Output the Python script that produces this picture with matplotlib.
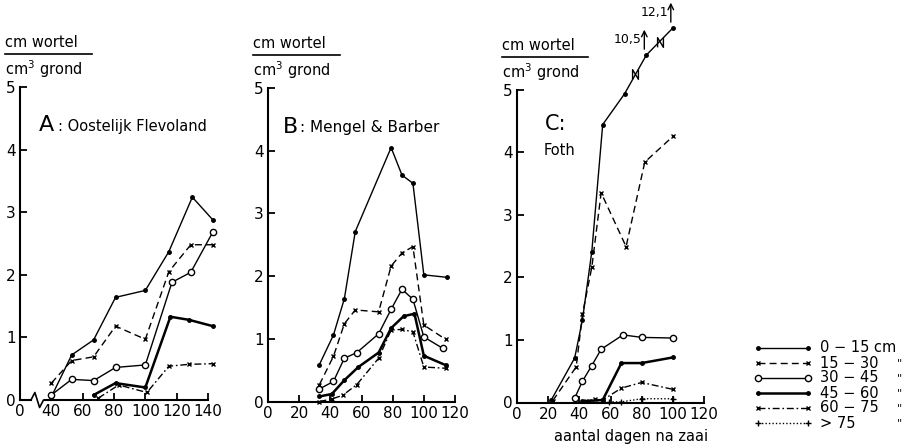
import numpy as np
import matplotlib.pyplot as plt
from matplotlib.path import Path

# diepte-klassen (cm)
labels = ['0 \u2212 15 cm', '15 \u2212 30', '30 \u2212 45', '45 \u2212 60', '60 \u2212 75', '> 75']

# A: Oostelijk Flevoland  (dagen na zaai, cm wortel / cm3 grond)
a_days = [
    [40, 53, 67, 81, 100, 115, 130, 143],
    [40, 53, 67, 81, 100, 115, 129, 143],
    [40, 53, 67, 81, 100, 117, 129, 143],
    [67, 81, 100, 116, 128, 143],
    [70, 83, 101, 115, 128, 143],
]
a_vals = [
    [0.05, 0.72, 0.96, 1.64, 1.75, 2.37, 3.24, 2.88],
    [0.27, 0.63, 0.69, 1.18, 0.97, 2.05, 2.48, 2.48],
    [0.08, 0.33, 0.31, 0.52, 0.56, 1.88, 2.04, 2.68],
    [0.08, 0.27, 0.20, 1.33, 1.28, 1.18],
    [0.03, 0.24, 0.12, 0.54, 0.57, 0.58],
]

# B: Mengel & Barber
b_days = [
    [33, 42, 49, 56, 79, 86, 93, 100, 115],
    [33, 42, 49, 56, 71, 79, 86, 93, 100, 114],
    [33, 42, 49, 57, 71, 79, 86, 93, 100, 112],
    [33, 41, 49, 58, 71, 79, 87, 94, 100, 114],
    [33, 41, 48, 57, 71, 79, 86, 93, 100, 114],
]
b_vals = [
    [0.59, 1.06, 1.64, 2.71, 4.05, 3.61, 3.48, 2.02, 1.98],
    [0.27, 0.72, 1.24, 1.46, 1.43, 2.16, 2.37, 2.47, 1.22, 0.99],
    [0.20, 0.32, 0.69, 0.78, 1.08, 1.47, 1.79, 1.63, 1.03, 0.85],
    [0.08, 0.12, 0.34, 0.55, 0.78, 1.17, 1.36, 1.40, 0.73, 0.58],
    [0.00, 0.04, 0.10, 0.27, 0.69, 1.14, 1.15, 1.11, 0.55, 0.53],
]

# C: Foth
c_days = [
    [22, 37, 42, 48, 55, 69, 83, 100],
    [23, 38, 42, 48, 54, 70, 82, 100],
    [37, 42, 48, 54, 68, 80, 100],
    [42, 55, 67, 80, 100],
    [44, 50, 55, 67, 80, 100],
    [59, 67, 80, 100],
]
c_vals = [
    [0.04, 0.71, 1.32, 2.41, 4.44, 4.93, 10.5, 12.1],
    [0.03, 0.57, 1.41, 2.16, 3.35, 2.49, 3.84, 4.25],
    [0.07, 0.34, 0.59, 0.85, 1.08, 1.04, 1.03],
    [0.02, 0.04, 0.63, 0.63, 0.72],
    [0.02, 0.05, 0.04, 0.23, 0.32, 0.21],
    [0.01, 0.01, 0.06, 0.06],
]

styles = [
    dict(ls='-', lw=1.0, marker='.', ms=5),
    dict(ls=(0, (5, 3)), lw=1.0, marker='x', ms=3.5, mew=1.0),
    dict(ls='-', lw=1.0, marker='o', ms=4.5, mfc='white', mew=1.0),
    dict(ls='-', lw=1.8, marker='.', ms=5),
    dict(ls=(0, (5, 2, 1.2, 2)), lw=1.0, marker='x', ms=3.5, mew=1.0),
    dict(ls=(0, (1, 1.5)), lw=1.0, marker='+', ms=5, mew=1.0),
]

plt.rcParams['font.family'] = 'DejaVu Sans'
W, H = 912, 445
fig = plt.figure(figsize=(W / 100, H / 100), dpi=100)


def frac(x0, y0, x1, y1):
    return [x0 / W, 1 - y1 / H, (x1 - x0) / W, (y1 - y0) / H]


def axis_style(ax):
    for s in ['top', 'right']:
        ax.spines[s].set_visible(False)
    for s in ['left', 'bottom']:
        ax.spines[s].set_linewidth(1.5)
    ax.tick_params(direction='in', length=5, width=1.3, labelsize=11, pad=3)
    ax.set_ylim(0, 5)
    ax.set_yticks([0, 1, 2, 3, 4, 5])


def disp(v):
    # gebroken y-as boven 5
    return v if v <= 5 else 5.55 + (v - 10.5) * 0.27


def ylabel(x0, x1, y):
    fig.text(x0 / W, 1 - y / H, 'cm wortel', fontsize=10.5, va='bottom')
    fig.add_artist(plt.Line2D([x0 / W, x1 / W], [1 - (y + 4) / H] * 2, color='k', lw=1.2))
    fig.text(x0 / W, 1 - (y + 8) / H, 'cm$^3$ grond', fontsize=10.5, va='top')


zig = Path([(-0.6, -1), (-0.6, 1), (0.6, -1), (0.6, 1)],
           [Path.MOVETO, Path.LINETO, Path.LINETO, Path.LINETO])

# ---- A
axA = fig.add_axes(frac(20, 87, 208, 400))
axis_style(axA)
axA.set_xlim(20, 140)
axA.set_xticks([20, 40, 60, 80, 100, 120, 140])
axA.set_xticklabels(['0', '40', '60', '80', '100', '120', '140'])
axA.spines['bottom'].set_visible(False)
axA.plot([20, 27], [0, 0], color='k', lw=1.5, clip_on=False)
axA.plot([27, 29.5, 32.5, 35, 36], [0, 0.12, -0.12, 0, 0], color='k', lw=1.2, clip_on=False)
axA.plot([36, 140], [0, 0], color='k', lw=1.5, clip_on=False)
for d, v, st in zip(a_days, a_vals, styles):
    axA.plot(d, v, color='k', clip_on=False, **st)
axA.text(0.1, 0.88, 'A', transform=axA.transAxes, fontsize=16, va='center')
axA.text(0.2, 0.875, ': Oostelijk Flevoland', transform=axA.transAxes, fontsize=10.5, va='center')
ylabel(5, 92, 50)

# ---- B
axB = fig.add_axes(frac(268, 88, 455, 401.5))
axis_style(axB)
axB.set_xlim(0, 120)
axB.set_xticks(range(0, 121, 20))
for d, v, st in zip(b_days, b_vals, styles):
    axB.plot(d, v, color='k', clip_on=False, **st)
axB.text(0.08, 0.875, 'B', transform=axB.transAxes, fontsize=16, va='center')
axB.text(0.17, 0.875, ': Mengel & Barber', transform=axB.transAxes, fontsize=11, va='center')
ylabel(253, 340, 51)

# ---- C
axC = fig.add_axes(frac(517, 89.5, 704, 402.5))
axis_style(axC)
axC.set_xlim(0, 120)
axC.set_xticks(range(0, 121, 20))
for d, v, st in zip(c_days, c_vals, styles):
    axC.plot(d, [disp(x) for x in v], color='k', clip_on=False, **st)
# breuktekens op de lijn 0-15 cm
dd = c_days[0][-3:]
yy = [disp(x) for x in c_vals[0][-3:]]
zx = [(dd[0] + dd[1]) / 2, (dd[1] + dd[2]) / 2]
zy = [(yy[0] + yy[1]) / 2, (yy[1] + yy[2]) / 2]
axC.plot(zx, zy, ls='none', marker=zig, ms=7, mfc='none', mec='k', mew=1.0, clip_on=False)
for d, v in [(c_days[0][-2], c_vals[0][-2]), (c_days[0][-1], c_vals[0][-1])]:
    y = disp(v)
    axC.annotate('', xy=(d - 1.3, y + 0.45), xytext=(d - 1.3, y + 0.05),
                 arrowprops=dict(arrowstyle='->', lw=1.0, color='k'), annotation_clip=False)
    axC.text(d - 3, y + 0.15, f'{v:.1f}'.replace('.', ','), fontsize=9,
             ha='right', va='bottom', clip_on=False)
axC.text(0.15, 0.89, 'C:', transform=axC.transAxes, fontsize=15, va='center')
axC.text(0.14, 0.805, 'Foth', transform=axC.transAxes, fontsize=10.5, va='center')
ylabel(502, 588, 53)
fig.text(631 / W, 1 - 437 / H, 'aantal dagen na zaai', fontsize=10.5, ha='center', va='center')

# ---- legenda
lax = fig.add_axes(frac(750, 330, 912, 445))
lax.set_xlim(0, 162)
lax.set_ylim(115, 0)
lax.axis('off')
for i, (lab, st) in enumerate(zip(labels, styles)):
    y = 18 + i * 15
    lax.plot([8, 58], [y, y], color='k', **st)
    lax.text(70, y, lab, fontsize=10.5, va='center')
    if i > 0:
        lax.text(147, y, '"', fontsize=8, va='center')

fig.savefig('out.png', dpi=100)
